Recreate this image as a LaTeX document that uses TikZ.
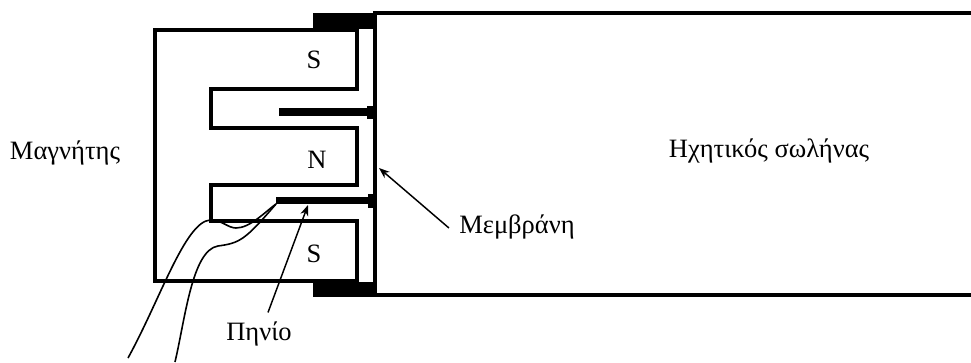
\documentclass[tikz,border=0pt]{standalone}
\usepackage{fontspec}
\setmainfont{Liberation Serif}
\usetikzlibrary{arrows.meta,positioning}

\begin{document}
\begin{tikzpicture}[
    x=0.75pt, y=-0.75pt,
    wall/.style={line width=2.5pt, line join=miter},
    solid block/.style={fill=black, draw=none},
    wire/.style={line width=1.2pt},
    arr/.style={-{Stealth[length=8pt,width=6pt,inset=2.5pt]}, line width=1.1pt},
    lbl/.style={font=\fontsize{14}{16}\selectfont, inner sep=0pt, scale=1.42},
  ]
  \useasboundingbox (0,0) rectangle (971,362);

  % Magnet
  \draw[wall] (155,30) -- (357,30) -- (357,89) -- (211,89) -- (211,128) -- (357,128)
    -- (357,185) -- (211,185) -- (211,221) -- (357,221) -- (357,281) -- (155,281) -- cycle;

  % Tube and membrane
  \draw[wall] (971,13) -- (375,13) -- (375,295) -- (971,295);

  % Clamps
  \fill[solid block] (313,13) rectangle (375,29);
  \fill[solid block] (313,282) rectangle (375,297);

  % Coil
  \fill[solid block] (279,108) rectangle (370,116);
  \fill[solid block] (367,106) rectangle (375,119);
  \fill[solid block] (276,197) rectangle (370,204);
  \fill[solid block] (368,194) rectangle (375,208);

  % Wires
  \draw[wire] (128,358) .. controls (160,300) and (185,222) .. (210,220)
    .. controls (222,220) and (228,228) .. (236,228)
    .. controls (250,228) and (265,212) .. (276,204);
  \draw[wire] (175,362) .. controls (185,320) and (192,250) .. (218,246)
    .. controls (240,243) and (245,240) .. (276,204);

  % Labels
  \node[lbl] (magnet) at (65,153) {Μαγνήτης};
  \node[lbl] (tube) at (769,151) {Ηχητικός σωλήνας};
  \node[lbl] (pole1) at (314,60) {S};
  \node[lbl] (pole2) at (317,160) {N};
  \node[lbl] (pole3) at (314,254) {S};
  \node[lbl] (coil) at (259,334) {Πηνίο};
  \node[lbl] (memb) at (517,227) {Μεμβράνη};

  % Arrows
  \coordinate (coiltip) at (308,205);
  \coordinate (membtip) at (379,168);
  \draw[arr] (coil.north) ++(9,-9) -- (coiltip);
  \draw[arr] (memb.west) ++(-10,1) -- (membtip);
\end{tikzpicture}
\end{document}
